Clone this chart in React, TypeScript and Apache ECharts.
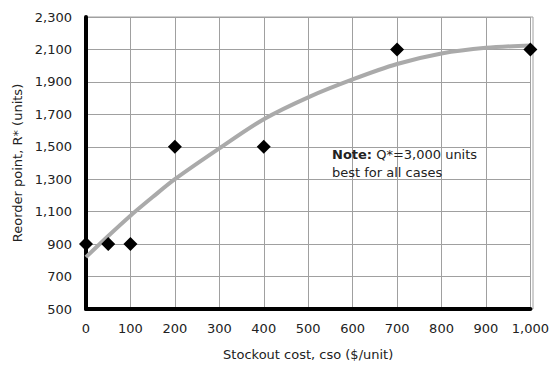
import React, { useEffect, useRef } from "react";
import * as echarts from "echarts";

const pointX = [0, 50, 100, 200, 400, 700, 1000];
const pointY = [900, 900, 900, 1500, 1500, 2100, 2100];

const trendX = [0, 50, 100, 150, 200, 300, 400, 500, 600, 700, 800, 900, 1000];
const trendY = [820, 950, 1075, 1190, 1300, 1490, 1670, 1805, 1915, 2010, 2075, 2110, 2125];

const xTitle = "Stockout cost, cso ($/unit)";
const yTitle = "Reorder point, R* (units)";
const noteLine1 = "Q*=3,000 units";
const noteLine2 = "best for all cases";

const FONT = "DejaVu Sans";

export default function App() {
  const ref = useRef<HTMLDivElement>(null);
  useEffect(() => {
    if (!ref.current) return;
    const chart = echarts.init(ref.current, undefined, { renderer: "svg" });
    const fmt = (v: number) => v.toLocaleString("en-US");
    chart.setOption({
      animation: false,
      backgroundColor: "#ffffff",
      textStyle: { fontFamily: FONT },
      grid: { left: 86, right: 19, top: 17, bottom: 58 },
      xAxis: {
        type: "value",
        min: 0,
        max: 1000,
        interval: 100,
        name: xTitle,
        nameLocation: "middle",
        nameGap: 39,
        nameTextStyle: { fontFamily: FONT, fontSize: 13, color: "#222" },
        axisLine: { show: true, onZero: false, lineStyle: { color: "#000", width: 4 } },
        axisTick: { show: false },
        axisLabel: { fontFamily: FONT, fontSize: 13, color: "#222", margin: 13, formatter: fmt },
        splitLine: { show: true, lineStyle: { color: "#a0a0a0", width: 1 } },
      },
      yAxis: {
        type: "value",
        min: 500,
        max: 2300,
        interval: 200,
        name: yTitle,
        nameLocation: "middle",
        nameGap: 62,
        nameRotate: 90,
        nameTextStyle: { fontFamily: FONT, fontSize: 13, color: "#222" },
        axisLine: { show: true, onZero: false, lineStyle: { color: "#000", width: 4 } },
        axisTick: { show: false },
        axisLabel: { fontFamily: FONT, fontSize: 13, color: "#222", margin: 14, formatter: fmt },
        splitLine: { show: true, lineStyle: { color: "#a0a0a0", width: 1 } },
      },
      graphic: [
        {
          type: "rect",
          shape: { x: 86, y: 17, width: 447, height: 292 },
          style: { fill: "none", stroke: "#a0a0a0", lineWidth: 1 },
          silent: true,
          z: -1,
        },
        {
          type: "text",
          x: 332,
          y: 154,
          style: {
            text: "{b|Note:} " + noteLine1,
            rich: { b: { fontWeight: "bold", fontFamily: FONT, fontSize: 13, fill: "#222" } },
            font: `13px "${FONT}"`,
            fill: "#222",
            verticalAlign: "middle",
          },
          z: 10,
        },
        {
          type: "text",
          x: 332,
          y: 172,
          style: {
            text: noteLine2,
            font: `13px "${FONT}"`,
            fill: "#222",
            verticalAlign: "middle",
          },
          z: 10,
        },
      ],
      series: [
        {
          type: "line",
          data: trendX.map((x, i) => [x, trendY[i]]),
          smooth: 0.3,
          showSymbol: false,
          symbol: "none",
          lineStyle: { color: "#aaaaaa", width: 4 },
          z: 3,
          silent: true,
        },
        {
          type: "scatter",
          data: pointX.map((x, i) => [x, pointY[i]]),
          symbol: "diamond",
          symbolSize: 14,
          itemStyle: { color: "#000", opacity: 1 },
          clip: false,
          z: 5,
        },
      ],
    });
    return () => chart.dispose();
  }, []);
  return <div ref={ref} style={{ width: 552, height: 367, position: "absolute", left: 0, top: 0 }} />;
}
